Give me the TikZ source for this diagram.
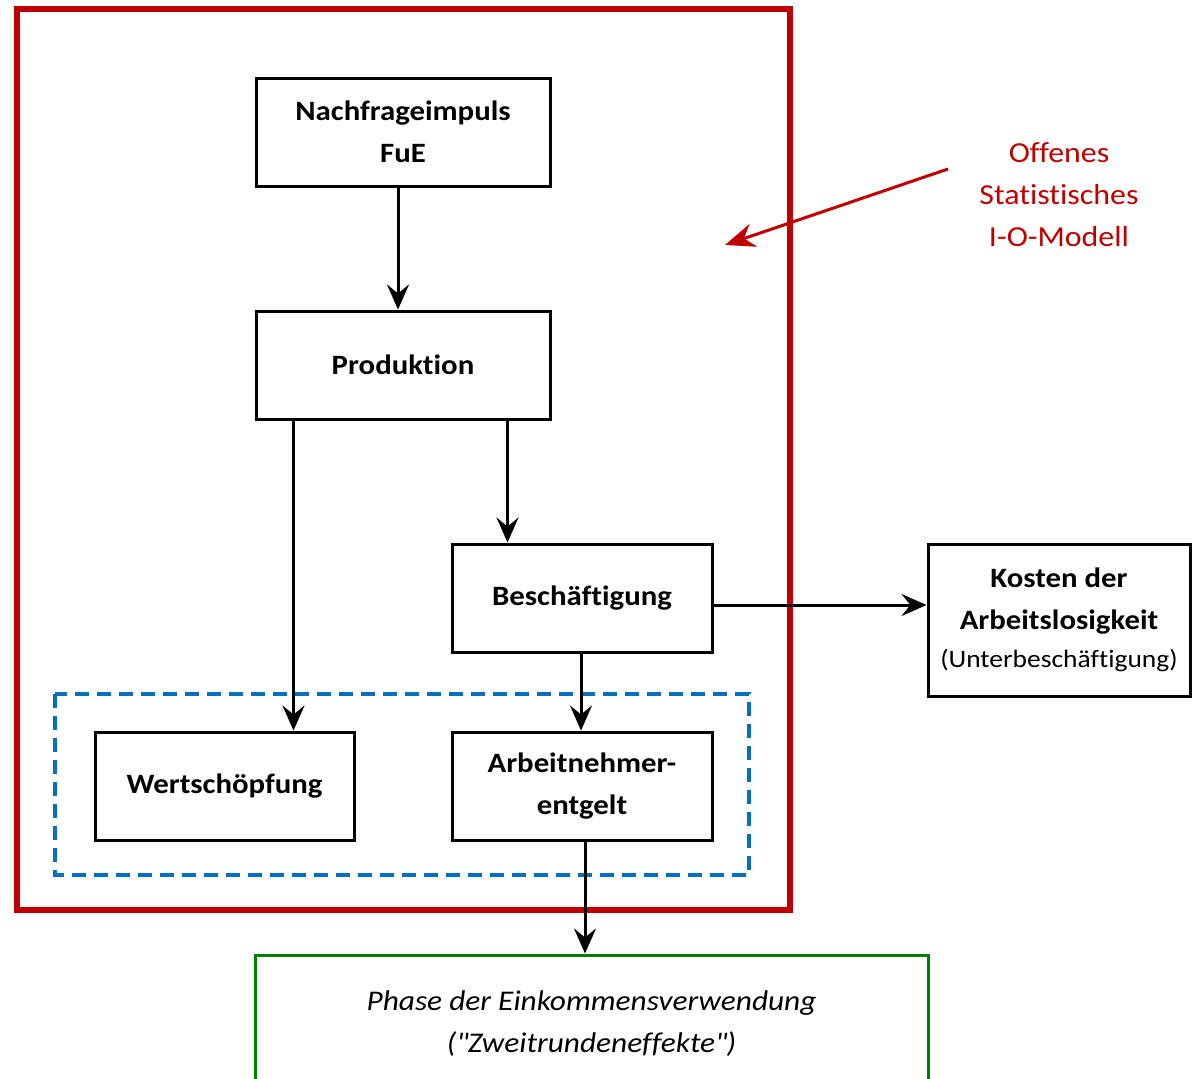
\documentclass[tikz,border=0pt]{standalone}
\usepackage{fontspec}
\setmainfont{Carlito}[FakeStretch=1.1,Ligatures=NoCommon]
\usetikzlibrary{arrows.meta}
\definecolor{iored}{RGB}{192,0,0}
\definecolor{ioblue}{RGB}{0,112,192}
\definecolor{iogreen}{RGB}{0,128,0}

\begin{document}
\begin{tikzpicture}[x=1pt,y=-1pt,line width=3pt,
    box/.style={draw,fill=white,align=center,inner sep=0pt,
      font=\fontsize{28}{42}\selectfont\bfseries},
    arr/.style={-{Stealth[length=25pt,width=22pt,inset=9pt]},line width=3pt}]
  \clip (0,0) rectangle (1192,1079);
  % frames
  \draw[iored,line width=6pt] (17,9) rectangle (790,910);
  \draw[ioblue,line width=3.5pt,dash pattern=on 14pt off 8pt] (55,694) rectangle (749,875);
  % boxes
  \node[box,minimum width=294pt,minimum height=108pt] (nach) at (403,132) {Nachfrageimpuls\\FuE};
  \node[box,minimum width=294pt,minimum height=108pt] (prod) at (403,365) {Produktion};
  \node[box,minimum width=260pt,minimum height=108pt] (besch) at (582,598) {Beschäftigung};
  \node[box,minimum width=259pt,minimum height=108pt] (wert) at (224.5,786) {Wertschöpfung};
  \node[box,minimum width=260pt,minimum height=108pt] (arb) at (582,786) {Arbeitnehmer-\\entgelt};
  \node[box,minimum width=262pt,minimum height=152pt] (kost) at (1059,620)
    {Kosten der\\Arbeitslosigkeit\\[-4pt]{\mdseries\fontsize{25}{30}\selectfont(Unterbeschäftigung)}};
  \node[box,draw=iogreen,minimum width=673pt,minimum height=138pt,font=\fontsize{28.5}{42}\selectfont\itshape]
    (phase) at (591.5,1024) {Phase der Einkommensverwendung\\(\textquotedbl Zweitrundeneffekte\textquotedbl)};
  \node[align=center,text=iored,font=\fontsize{29}{42}\selectfont] (iolabel) at (1059,195)
    {Offenes\\Statistisches\\I-O-Modell};
  \coordinate (iofrom) at (948,169);
  \coordinate (iotip) at (725,245);
  % connectors
  \draw[arr] ([xshift=-5pt]nach.south) -- ([xshift=-5pt]prod.north);
  \draw[arr] ([xshift=39pt]prod.south west) -- ([xshift=39pt]prod.south west |- wert.north);
  \draw[arr] ([xshift=-44pt]prod.south east) -- ([xshift=-44pt]prod.south east |- besch.north);
  \draw[arr] ([xshift=-1pt]besch.south) -- ([xshift=-1pt]arb.north);
  \draw[arr] ([xshift=3pt]arb.south) -- ([xshift=3pt]arb.south |- phase.north);
  \draw[arr] ([yshift=-7pt]besch.east) -- ([yshift=-7pt]besch.east -| kost.west);
  \draw[iored,-{Stealth[length=30pt,width=24pt,inset=10pt]},line width=3pt] (iofrom) -- (iotip);
\end{tikzpicture}
\end{document}
